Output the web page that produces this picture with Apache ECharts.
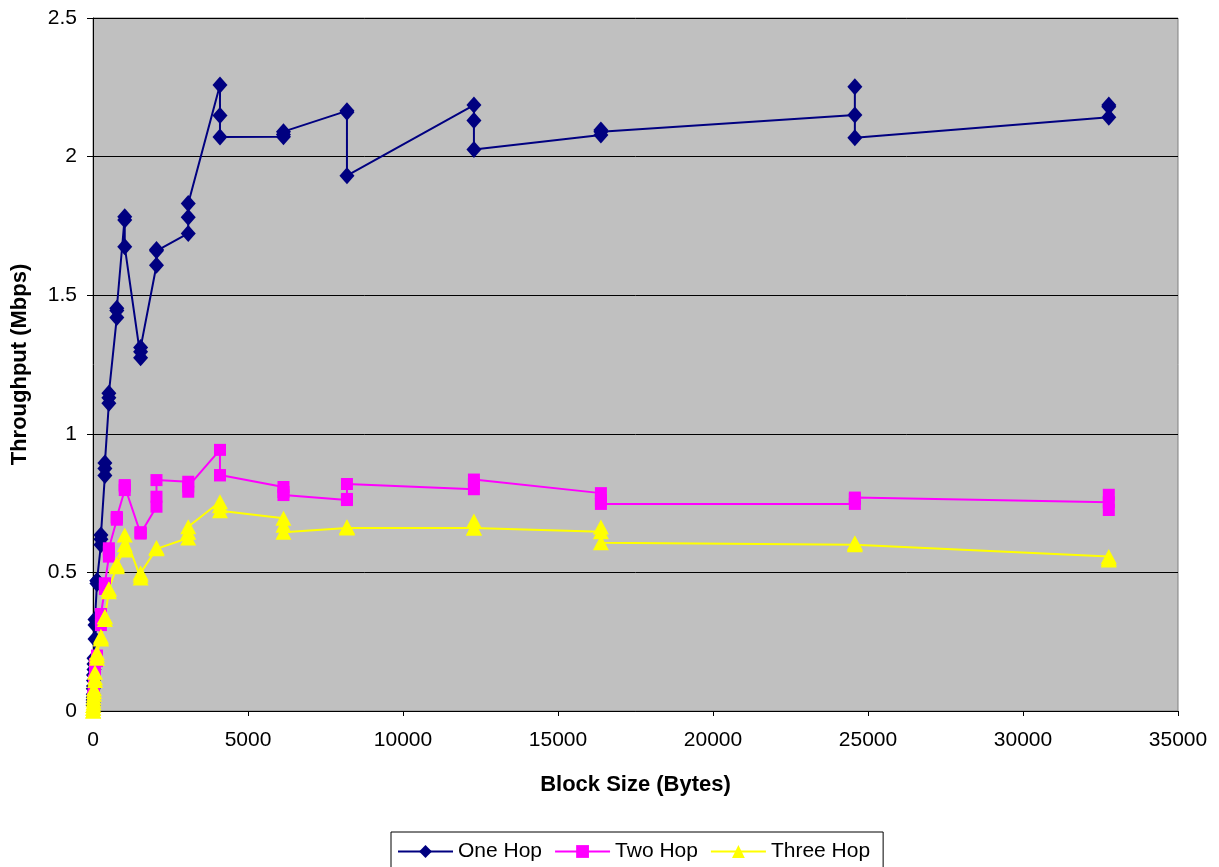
<!DOCTYPE html>
<html>
<head>
<meta charset="utf-8">
<title>Throughput vs Block Size</title>
<script src="https://cdn.jsdelivr.net/npm/echarts@6/dist/echarts.min.js"></script>
<style>
  html, body { margin: 0; padding: 0; background: #ffffff; }
  #chart { width: 1219px; height: 867px; }
</style>
</head>
<body>
<div id="chart"></div>
<script>
// Block sizes (bytes); each size was measured three times.
const blockSizes = [4, 8, 16, 32, 64, 128, 256, 384, 512, 768, 1024, 1536, 2048,
                    3072, 4096, 6144, 8192, 12288, 16384, 24576, 32768];

// Throughput (Mbps), three runs per block size, in run order.
const oneHop = [
  [0.02, 0.03, 0.04], [0.05, 0.06, 0.08], [0.09, 0.11, 0.13], [0.15, 0.17, 0.19],
  [0.26, 0.31, 0.33], [0.46, 0.47, 0.47], [0.60, 0.62, 0.635], [0.85, 0.875, 0.895],
  [1.11, 1.13, 1.146], [1.42, 1.445, 1.453], [1.783, 1.771, 1.675], [1.274, 1.296, 1.311],
  [1.608, 1.66, 1.665], [1.723, 1.781, 1.831], [2.258, 2.148, 2.071], [2.072, 2.08, 2.09],
  [2.165, 2.16, 1.931], [2.186, 2.13, 2.026], [2.078, 2.09, 2.096], [2.15, 2.252, 2.068],
  [2.142, 2.186, 2.18]
];
const twoHop = [
  [0.01, 0.01, 0.02], [0.02, 0.03, 0.03], [0.05, 0.05, 0.06], [0.09, 0.10, 0.11],
  [0.14, 0.15, 0.17], [0.18, 0.19, 0.20], [0.31, 0.33, 0.35], [0.44, 0.46, 0.46],
  [0.557, 0.575, 0.587], [0.69, 0.697, 0.70], [0.797, 0.81, 0.815], [0.64, 0.643, 0.645],
  [0.737, 0.773, 0.833], [0.827, 0.791, 0.81], [0.942, 0.851, 0.85], [0.808, 0.79, 0.779],
  [0.761, 0.765, 0.819], [0.80, 0.82, 0.835], [0.786, 0.76, 0.747], [0.747, 0.77, 0.765],
  [0.753, 0.78, 0.725]
];
const threeHop = [
  [0.0, 0.0, 0.01], [0.01, 0.02, 0.02], [0.03, 0.04, 0.05], [0.06, 0.07, 0.08],
  [0.11, 0.12, 0.14], [0.19, 0.20, 0.21], [0.26, 0.263, 0.27], [0.33, 0.34, 0.34],
  [0.43, 0.44, 0.44], [0.52, 0.525, 0.53], [0.581, 0.60, 0.635], [0.48, 0.49, 0.498],
  [0.585, 0.588, 0.59], [0.624, 0.645, 0.665], [0.755, 0.74, 0.722], [0.695, 0.67, 0.645],
  [0.66, 0.663, 0.665], [0.66, 0.685, 0.66], [0.647, 0.664, 0.607], [0.60, 0.606, 0.605],
  [0.557, 0.55, 0.545]
];

const seriesNames = ['One Hop', 'Two Hop', 'Three Hop'];
const xTicks = { min: 0, max: 35000, interval: 5000 };
const yTicks = { min: 0, max: 2.5, interval: 0.5 };

// Flatten the runs into [blockSize, throughput] pairs, keeping run order.
function toPoints(runs) {
  const pts = [];
  runs.forEach((vals, i) => vals.forEach(v => pts.push([blockSizes[i], v])));
  return pts;
}

const FONT = '"Liberation Sans", Arial, sans-serif';

const chart = echarts.init(document.getElementById('chart'), null, { renderer: 'canvas' });

function lineSeries(name, runs, color, symbol, size) {
  return {
    name: name,
    type: 'line',
    data: toPoints(runs),
    symbol: symbol,
    symbolSize: size,
    showAllSymbol: true,
    lineStyle: { color: color, width: 2 },
    itemStyle: { color: color, borderWidth: 0 },
    emphasis: { disabled: true }
  };
}

chart.setOption({
  animation: false,
  backgroundColor: '#ffffff',
  textStyle: { fontFamily: FONT },
  grid: {
    left: 93, right: 41, top: 18, bottom: 156,
    show: true,
    backgroundColor: '#C0C0C0',
    borderColor: '#808080',
    borderWidth: 1
  },
  xAxis: {
    type: 'value',
    min: xTicks.min, max: xTicks.max, interval: xTicks.interval,
    name: 'Block Size (Bytes)',
    nameLocation: 'middle',
    nameGap: 63,
    nameTextStyle: { fontFamily: FONT, fontSize: 22, fontWeight: 'bold', color: '#000' },
    axisLine: { show: true, lineStyle: { color: '#000', width: 1 } },
    axisTick: { show: true, inside: false, length: 5, lineStyle: { color: '#000' } },
    axisLabel: {
      fontFamily: FONT, fontSize: 21, color: '#000', margin: 19,
      formatter: v => String(v)
    },
    splitLine: { show: false }
  },
  yAxis: {
    type: 'value',
    min: yTicks.min, max: yTicks.max, interval: yTicks.interval,
    name: 'Throughput (Mbps)',
    nameLocation: 'middle',
    nameGap: 62,
    nameTextStyle: { fontFamily: FONT, fontSize: 22, fontWeight: 'bold', color: '#000' },
    axisLine: { show: true, lineStyle: { color: '#000', width: 1 } },
    axisTick: { show: true, inside: false, length: 6, lineStyle: { color: '#000' } },
    axisLabel: { fontFamily: FONT, fontSize: 21, color: '#000', margin: 16 },
    splitLine: { show: true, lineStyle: { color: '#000', width: 1 } }
  },
  legend: {
    data: seriesNames,
    left: 391,
    top: 832,
    orient: 'horizontal',
    backgroundColor: '#ffffff',
    borderColor: '#000',
    borderWidth: 1,
    borderRadius: 0,
    padding: [9, 13, 15, 6],
    itemWidth: 55,
    itemHeight: 16,
    itemGap: 12,
    textStyle: { fontFamily: FONT, fontSize: 21, color: '#000' }
  },
  series: [
    lineSeries(seriesNames[0], oneHop, '#000080', 'diamond', [15, 17]),
    lineSeries(seriesNames[1], twoHop, '#FF00FF', 'rect', 12),
    lineSeries(seriesNames[2], threeHop, '#FFFF00', 'triangle', [16, 15])
  ]
});
</script>
</body>
</html>
